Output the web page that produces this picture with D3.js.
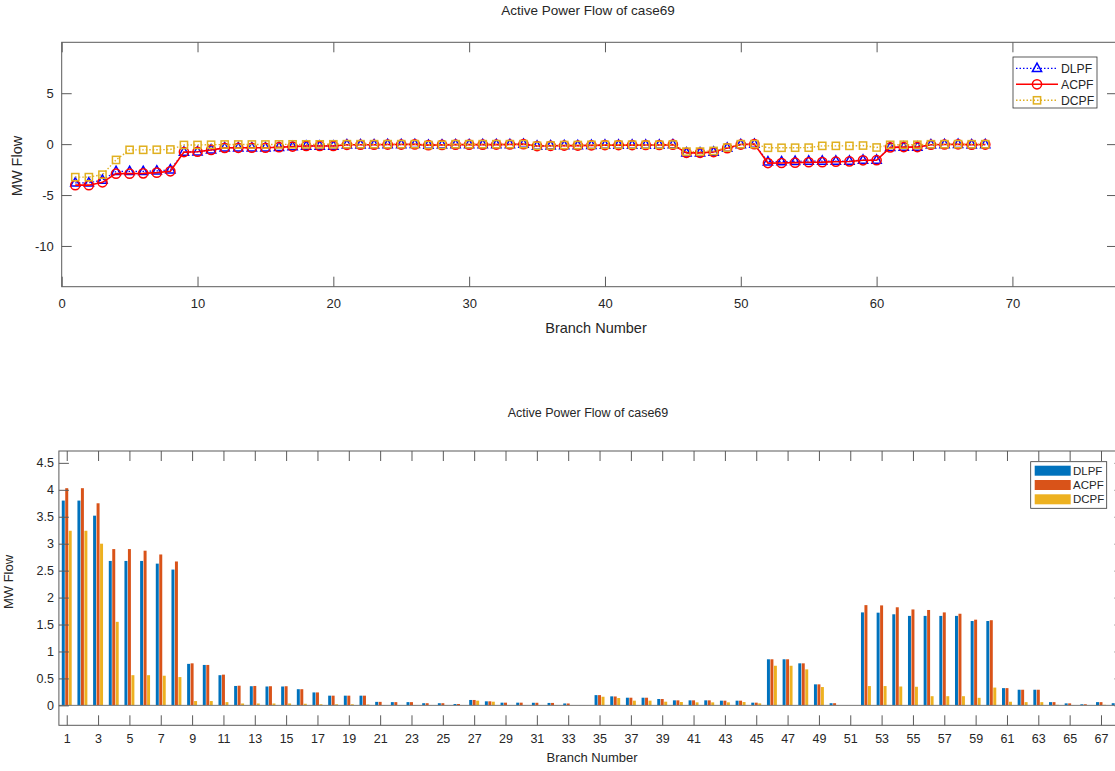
<!DOCTYPE html>
<html>
<head>
<meta charset="utf-8">
<script src="https://cdn.jsdelivr.net/npm/d3@7"></script>
<style>
  body { margin: 0; background: #fff; }
  svg { display: block; }
  text { font-family: Arial, "Liberation Sans", Helvetica, sans-serif; fill: #262626; }
</style>
</head>
<body>
<svg id="chart" width="1115" height="771"></svg>
<script>
// Branch active power flows (MW) of the 69-bus case, three solvers
const branches = d3.range(1, 69);
const dlpf = [
  -3.80, -3.80, -3.52, -2.68, -2.68, -2.68, -2.63, -2.52, -0.77, -0.75,
  -0.56, -0.36, -0.355, -0.35, -0.35, -0.30, -0.24, -0.18, -0.18, -0.18,
  -0.065, -0.06, -0.06, -0.04, -0.04, -0.025, -0.10, -0.075, -0.05, -0.05,
  -0.048, -0.045, -0.035, -0.002, -0.19, -0.167, -0.142, -0.142, -0.118, -0.093,
  -0.093, -0.093, -0.087, -0.087, -0.05, -0.855, -0.855, -0.78, -0.39, -0.04,
  -0.001, -1.725, -1.72, -1.69, -1.66, -1.66, -1.66, -1.66, -1.565, -1.565,
  -0.32, -0.29, -0.29, -0.06, -0.037, -0.02, -0.06, -0.04
];
const acpf = [
  -4.03, -4.03, -3.75, -2.90, -2.90, -2.87, -2.80, -2.67, -0.78, -0.75,
  -0.57, -0.365, -0.36, -0.355, -0.355, -0.30, -0.24, -0.18, -0.18, -0.18,
  -0.065, -0.06, -0.06, -0.04, -0.04, -0.025, -0.10, -0.075, -0.05, -0.05,
  -0.048, -0.045, -0.035, -0.002, -0.19, -0.165, -0.142, -0.142, -0.118, -0.093,
  -0.093, -0.093, -0.087, -0.087, -0.05, -0.855, -0.855, -0.78, -0.39, -0.04,
  -0.001, -1.86, -1.855, -1.82, -1.78, -1.77, -1.725, -1.70, -1.59, -1.58,
  -0.32, -0.29, -0.29, -0.06, -0.037, -0.02, -0.06, -0.04
];
const dcpf = [
  -3.24, -3.24, -3.00, -1.55, -0.56, -0.56, -0.55, -0.525, -0.08, -0.08,
  -0.06, -0.035, -0.035, -0.035, -0.035, -0.03, -0.02, -0.02, -0.02, -0.015,
  -0.005, -0.005, -0.005, -0.004, -0.004, -0.002, -0.087, -0.068, -0.005, -0.005,
  -0.004, -0.004, -0.003, -0.001, -0.16, -0.136, -0.087, -0.087, -0.068, -0.062,
  -0.056, -0.056, -0.056, -0.062, -0.037, -0.735, -0.735, -0.668, -0.34, -0.005,
  -0.001, -0.358, -0.358, -0.35, -0.345, -0.17, -0.17, -0.17, -0.14, -0.33,
  -0.067, -0.06, -0.06, -0.01, -0.005, -0.003, -0.01, -0.005
];
const seriesNames = ["DLPF", "ACPF", "DCPF"];
const chartTitle = "Active Power Flow of case69";
const xAxisTitle = "Branch Number";
const yAxisTitle = "MW Flow";
const lineTicksX = [0, 10, 20, 30, 40, 50, 60, 70];
const lineTicksY = [-10, -5, 0, 5];
const barTicksX = d3.range(1, 68, 2);
const barTicksY = [0, 0.5, 1, 1.5, 2, 2.5, 3, 3.5, 4, 4.5];

const svg = d3.select("#chart");
const axisColor = "#5a5a5a";
const series = [dlpf, acpf, dcpf];

// Box with inward ticks on all four sides
function drawFrame(g, x, y, xTicks, yTicks, opt) {
  const [x0, x1] = x.range();
  const [y0, y1] = y.range(); // y0 bottom, y1 top
  const tl = opt.tickLen;
  const bottom = g.append("g").attr("transform", `translate(0,${y0})`)
    .call(d3.axisBottom(x).tickValues(xTicks).tickSize(-tl).tickPadding(opt.xPad).tickFormat(d => d));
  const top = g.append("g").attr("transform", `translate(0,${y1})`)
    .call(d3.axisTop(x).tickValues(xTicks).tickSize(-tl).tickFormat(""));
  const left = g.append("g").attr("transform", `translate(${x0},0)`)
    .call(d3.axisLeft(y).tickValues(yTicks).tickSize(-tl).tickPadding(opt.yPad).tickFormat(d => d));
  const right = g.append("g").attr("transform", `translate(${x1},0)`)
    .call(d3.axisRight(y).tickValues(yTicks).tickSize(-tl).tickFormat(""));
  [bottom, top, left, right].forEach(a => {
    a.select(".domain").remove();
    a.selectAll(".tick line").attr("stroke", axisColor).attr("stroke-width", 1);
    a.selectAll(".tick text").attr("font-size", opt.fontSize).attr("fill", "#262626")
      .attr("font-family", "Arial, 'Liberation Sans', sans-serif");
  });
  g.append("rect")
    .attr("x", x0).attr("y", y1)
    .attr("width", x1 - x0).attr("height", y0 - y1)
    .attr("fill", "none").attr("stroke", axisColor).attr("stroke-width", 1);
}

/* ---------- Line chart ---------- */
const gl = svg.append("g");
const xl = d3.scaleLinear().domain([0, 77.7]).range([61.7, 1117]);
const yl = d3.scaleLinear().domain([-14, 10]).range([286.7, 42.3]);

drawFrame(gl, xl, yl, lineTicksX, lineTicksY, { tickLen: 10, xPad: 12, yPad: 8, fontSize: 13 });

const lineStyles = [
  { color: "#0000ff", width: 1.2, dash: "1.5,2", marker: "tri" },
  { color: "#ff0000", width: 1.6, dash: null, marker: "circ" },
  { color: "#e0b020", width: 1.4, dash: "1.5,2", marker: "sq" }
];

function drawMarker(g, type, cx, cy, color) {
  if (type === "tri") {
    g.append("path")
      .attr("d", `M${cx},${cy - 5.2}L${cx + 4.6},${cy + 3.2}L${cx - 4.6},${cy + 3.2}Z`)
      .attr("fill", "none").attr("stroke", color).attr("stroke-width", 1.5);
  } else if (type === "circ") {
    g.append("circle").attr("cx", cx).attr("cy", cy).attr("r", 4.6)
      .attr("fill", "none").attr("stroke", color).attr("stroke-width", 1.5);
  } else {
    g.append("rect").attr("x", cx - 3.6).attr("y", cy - 3.6).attr("width", 7.2).attr("height", 7.2)
      .attr("fill", "none").attr("stroke", color).attr("stroke-width", 1.5);
  }
}

const lineGen = d3.line().x((d, i) => xl(branches[i])).y(d => yl(d));
series.forEach((vals, s) => {
  const st = lineStyles[s];
  gl.append("path").datum(vals)
    .attr("d", lineGen)
    .attr("fill", "none").attr("stroke", st.color).attr("stroke-width", st.width)
    .attr("stroke-dasharray", st.dash);
  const mg = gl.append("g");
  vals.forEach((v, i) => drawMarker(mg, st.marker, xl(branches[i]), yl(v), st.color));
});

// legend
const lg = gl.append("g");
lg.append("rect").attr("x", 1013).attr("y", 57).attr("width", 84).attr("height", 51)
  .attr("fill", "#fff").attr("stroke", "#333").attr("stroke-width", 0.8);
seriesNames.forEach((name, s) => {
  const st = lineStyles[s];
  const cy = 68.3 + s * 16;
  lg.append("line").attr("x1", 1016).attr("x2", 1058).attr("y1", cy).attr("y2", cy)
    .attr("stroke", st.color).attr("stroke-width", st.width).attr("stroke-dasharray", st.dash);
  drawMarker(lg, st.marker, 1037, cy, st.color);
  lg.append("text").attr("x", 1061).attr("y", cy).attr("dy", "0.35em")
    .attr("font-size", 12.2).text(name);
});

gl.append("text").attr("x", 588).attr("y", 10).attr("dy", "0.35em")
  .attr("text-anchor", "middle").attr("font-size", 13.5).text(chartTitle);
gl.append("text").attr("x", 596).attr("y", 328).attr("dy", "0.35em")
  .attr("text-anchor", "middle").attr("font-size", 14.5).text(xAxisTitle);
gl.append("text").attr("transform", "translate(17,166) rotate(-90)").attr("dy", "0.35em")
  .attr("text-anchor", "middle").attr("font-size", 14.5).text(yAxisTitle);

/* ---------- Grouped bar chart of flow magnitudes ---------- */
const gb = svg.append("g");
const xb = d3.scaleLinear().domain([0.5, 68.5]).range([58.9, 1124.5]);
const yb = d3.scaleLinear().domain([-0.37, 4.72]).range([725.3, 451]);
const barColors = ["#0072bd", "#d95319", "#edb120"];
const offsets = [-0.222, 0, 0.222];
const barW = 0.19;

seriesNames.forEach((name, s) => {
  gb.append("g").selectAll("rect").data(series[s]).join("rect")
    .attr("x", (d, i) => xb(branches[i] + offsets[s] - barW / 2))
    .attr("width", xb(barW) - xb(0))
    .attr("y", d => yb(Math.abs(d)))
    .attr("height", d => yb(0) - yb(Math.abs(d)))
    .attr("fill", barColors[s]);
});
// zero baseline
gb.append("line").attr("x1", xb(0.5)).attr("x2", xb(68.5)).attr("y1", yb(0)).attr("y2", yb(0))
  .attr("stroke", "#777").attr("stroke-width", 1);

drawFrame(gb, xb, yb, barTicksX, barTicksY, { tickLen: 10, xPad: 9, yPad: 5, fontSize: 12.5 });

const bl = gb.append("g");
bl.append("rect").attr("x", 1030.7).attr("y", 461.7).attr("width", 76).attr("height", 46.6)
  .attr("fill", "#fff").attr("stroke", "#333").attr("stroke-width", 0.8);
seriesNames.forEach((name, s) => {
  const cy = 470.7 + s * 14.3;
  bl.append("rect").attr("x", 1034.7).attr("y", cy - 5).attr("width", 36).attr("height", 10)
    .attr("fill", barColors[s]);
  bl.append("text").attr("x", 1073).attr("y", cy).attr("dy", "0.35em")
    .attr("font-size", 11.5).text(name);
});

gb.append("text").attr("x", 588).attr("y", 413).attr("dy", "0.35em")
  .attr("text-anchor", "middle").attr("font-size", 12.5).text(chartTitle);
gb.append("text").attr("x", 592).attr("y", 757).attr("dy", "0.35em")
  .attr("text-anchor", "middle").attr("font-size", 13).text(xAxisTitle);
gb.append("text").attr("transform", "translate(8,582) rotate(-90)").attr("dy", "0.35em")
  .attr("text-anchor", "middle").attr("font-size", 13).text(yAxisTitle);
</script>
</body>
</html>
